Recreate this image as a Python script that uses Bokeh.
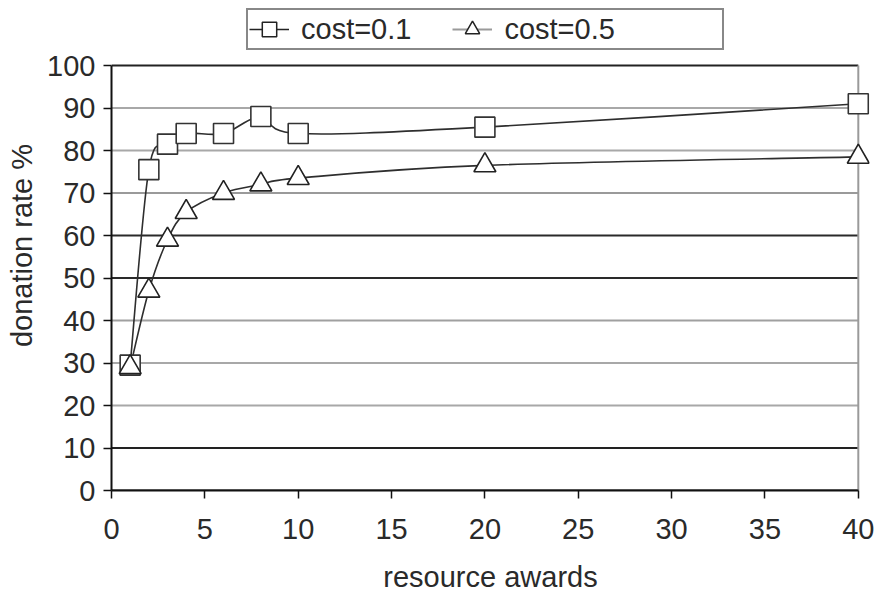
from bokeh.plotting import figure
from bokeh.models import Range1d, FixedTicker, Legend, LegendItem
from bokeh.embed import file_html
from bokeh.resources import INLINE

# --- data -------------------------------------------------------------
awards = [1, 2, 3, 4, 6, 8, 10, 20, 40]
rate_cost01 = [29.5, 75.5, 81.5, 84, 84, 88, 84, 85.5, 91]
rate_cost05 = [29, 47, 59, 65.5, 70, 72, 73.5, 76.5, 78.5]
x_ticks = [0, 5, 10, 15, 20, 25, 30, 35, 40]
y_ticks = [0, 10, 20, 30, 40, 50, 60, 70, 80, 90, 100]

# horizontal rule colours, bottom to top
grid_colors = ["#222222", "#222222", "#a8a8a8", "#a8a8a8", "#a0a0a0", "#2a2a2a",
               "#2a2a2a", "#9a9a9a", "#a8a8a8", "#a8a8a8", "#222222"]

FONT = "Liberation Sans"
FS = "29px"
INK = "#2a2a2a"
X_MAX = x_ticks[-1]
Y_MAX = y_ticks[-1]


def smooth_segments(xs, ys):
    """Cubic Bezier pieces for a Catmull-Rom style smoothed line."""
    n = len(xs)
    px = [xs[0]] + list(xs) + [xs[-1]]
    py = [ys[0]] + list(ys) + [ys[-1]]
    seg = dict(x0=[], y0=[], x1=[], y1=[], cx0=[], cy0=[], cx1=[], cy1=[])
    for i in range(1, n):
        a, b, c, d = i - 1, i, i + 1, i + 2
        seg["x0"].append(px[b]); seg["y0"].append(py[b])
        seg["x1"].append(px[c]); seg["y1"].append(py[c])
        seg["cx0"].append(px[b] + (px[c] - px[a]) / 6.0)
        seg["cy0"].append(py[b] + (py[c] - py[a]) / 6.0)
        seg["cx1"].append(px[c] - (px[d] - px[b]) / 6.0)
        seg["cy1"].append(py[c] - (py[d] - py[b]) / 6.0)
    return seg


# The frame runs up to the top of the canvas so the legend above the
# plotting area is drawn inside it; the axes are bounded to the tick span.
PLOT_H = 425          # pixel height of the 0..100 span
TOP_GAP = 65          # space above it for the legend
x_pad = 0.6           # room past the last tick for the end markers
p = figure(width=882, height=594, output_backend="svg", toolbar_location=None,
           x_range=Range1d(0, X_MAX + x_pad),
           y_range=Range1d(0, Y_MAX * (PLOT_H + TOP_GAP) / PLOT_H),
           min_border_left=111, min_border_right=13,
           min_border_top=0, min_border_bottom=104)
p.frame_width = 758
p.frame_height = PLOT_H + TOP_GAP
p.background_fill_color = "white"
p.border_fill_color = "white"
p.outline_line_color = None
p.xgrid.visible = False
p.ygrid.visible = False

# horizontal rules across the tick span
p.segment(x0=[x_ticks[0]] * len(y_ticks), x1=[X_MAX] * len(y_ticks),
          y0=y_ticks, y1=y_ticks, line_color=grid_colors, line_width=2)
# right-hand border of the plotting area
p.segment(x0=[X_MAX], x1=[X_MAX], y0=[y_ticks[0]], y1=[Y_MAX],
          line_color="#9a9a9a", line_width=2)

for ax in (p.xaxis, p.yaxis):
    ax.axis_line_color = "#111111"
    ax.axis_line_width = 2
    ax.major_tick_line_color = "#111111"
    ax.major_tick_line_width = 1.5
    ax.major_tick_in = 0
    ax.major_tick_out = 8
    ax.minor_tick_line_color = None
    ax.major_label_text_font = FONT
    ax.major_label_text_font_size = FS
    ax.major_label_text_color = INK
    ax.axis_label_text_font = FONT
    ax.axis_label_text_font_size = FS
    ax.axis_label_text_font_style = "normal"
    ax.axis_label_text_color = INK

p.xaxis.bounds = (0, X_MAX)
p.yaxis.bounds = (0, Y_MAX)
p.xaxis.ticker = FixedTicker(ticks=x_ticks)
p.yaxis.ticker = FixedTicker(ticks=y_ticks)
p.xaxis.axis_label = "resource awards"
p.yaxis.axis_label = "donation rate %"
p.xaxis.major_label_standoff = 20
p.yaxis.major_label_standoff = 8
p.xaxis.axis_label_standoff = 19
p.yaxis.axis_label_standoff = 6

# smoothed connecting curves
for rates in (rate_cost01, rate_cost05):
    p.bezier(x0="x0", y0="y0", x1="x1", y1="y1", cx0="cx0", cy0="cy0",
             cx1="cx1", cy1="cy1", source=smooth_segments(awards, rates),
             line_color="#2e2e2e", line_width=1.6)

p.scatter(awards, rate_cost01, marker="square", size=20, fill_color="white",
          line_color="#333333", line_width=1.6)
p.scatter(awards, rate_cost05, marker="triangle", size=22, fill_color="white",
          line_color="#222222", line_width=1.6)

# hidden stand-ins that supply the legend keys
k1_line = p.line(awards, rate_cost01, line_color="#222222", line_width=1.5, visible=False)
k1_mark = p.scatter(awards, rate_cost01, marker="square", fill_color="white",
                    line_color="#222222", line_width=1.5, visible=False)
k2_line = p.line(awards, rate_cost05, line_color="#9a9a9a", line_width=2, visible=False)
k2_mark = p.scatter(awards, rate_cost05, marker="triangle", fill_color="white",
                    line_color="#222222", line_width=1.5, visible=False)
# blank trailing slot that widens the legend box
k3_blank = p.line(awards, rate_cost05, line_alpha=0, visible=False)

legend = Legend(items=[LegendItem(label="cost=0.1", renderers=[k1_line, k1_mark], index=0),
                       LegendItem(label="cost=0.5", renderers=[k2_line, k2_mark], index=0),
                       LegendItem(label="", renderers=[k3_blank], index=0)],
                orientation="horizontal", location=(135, 440),
                label_text_font=FONT, label_text_font_size=FS, label_text_color=INK,
                glyph_width=40, glyph_height=36, label_height=30, label_width=13,
                label_standoff=12, spacing=41, padding=1, margin=0,
                border_line_color="#111111", border_line_width=2,
                background_fill_color="white")
p.add_layout(legend, "center")

open("out.html", "w").write(file_html(p, INLINE))
